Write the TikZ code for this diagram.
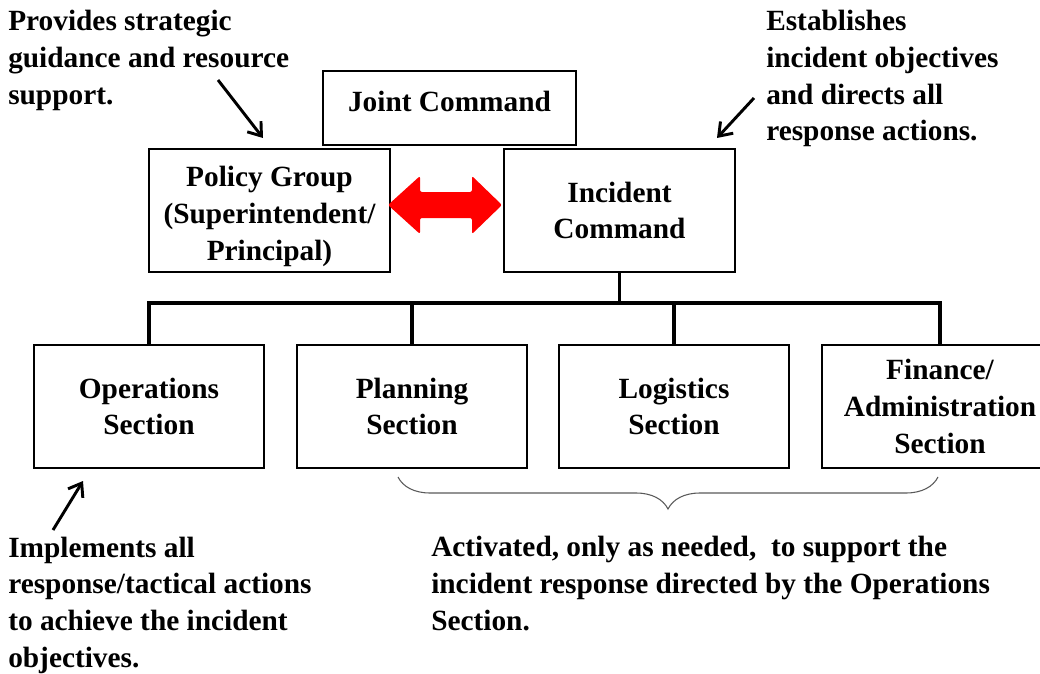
\documentclass[tikz,border=0pt]{standalone}
\usepackage{fontspec}
\setmainfont{Liberation Serif}
\usetikzlibrary{arrows.meta,decorations.pathreplacing}

\begin{document}
\begin{tikzpicture}[x=0.75pt, y=-0.75pt,
    box/.style = {draw, line width=1.1pt, align=center, inner sep=0pt,
      minimum width=172.5pt, minimum height=92.25pt,
      font=\bfseries\fontsize{22}{27.6}\selectfont},
    note/.style = {anchor=base west, align=left, inner sep=0pt,
      font=\bfseries\fontsize{22}{27.5}\selectfont},
    tree/.style = {line width=2.3pt},
    pointer/.style = {line width=2.2pt, -{Straight Barb[length=9pt,width=13pt,line width=2.2pt]}}]
    \useasboundingbox (0,0) rectangle (1040,674);
    % top of the chart
    \node[box, minimum width=189.75pt, minimum height=55.5pt, text depth=10pt] (jc) at (449.5,108) {Joint Command};
    \node[box, minimum width=180.75pt, text height=79pt] (pg) at (269.5,210.5) {Policy Group\\(Superintendent/\\Principal)};
    \node[box, minimum width=173.25pt] (ic) at (619.5,210.5) {Incident\\Command};
    % sections
    \node[box] (ops) at (149,406.5) {Operations\\Section};
    \node[box] (plan) at (412,406.5) {Planning\\Section};
    \node[box] (log) at (674,406.5) {Logistics\\Section};
    \node[box, minimum width=177pt] (fin) at (940,406.5) {Finance/\\Administration\\Section};
    % red two-way arrow between policy group and incident command
    \fill[red, rounded corners=1.5pt] (388,205) -- (420,176) -- (420,192) -- (472,192) -- (472,176)
      -- (502,205) -- (472,234) -- (472,218) -- (420,218) -- (420,234) -- cycle;
    % tree
    \coordinate (bus) at (620,303);
    \draw[tree] (ic.south) -- (ic.south |- bus);
    \draw[tree] (ops.north) -- (ops.north |- bus) -- (fin.north |- bus) -- (fin.north);
    \draw[tree] (plan.north) -- (plan.north |- bus);
    \draw[tree] (log.north) -- (log.north |- bus);
    % brace under the support sections
    \coordinate (bl) at (398,477);
    \coordinate (br) at (938,477);
    \draw[gray!70!black, line width=0.8pt, decorate, decoration={brace, mirror, amplitude=24pt}] (bl) -- (br);
    % notes (placed by the baseline of their last line)
    \node[note] (pgnote) at (8,104) {Provides strategic\\guidance and resource\\support.};
    \node[note] (icnote) at (766,141) {Establishes\\incident objectives\\and directs all\\response actions.};
    \node[note] (opsnote) at (8,667) {Implements all\\response/tactical actions\\to achieve the incident\\objectives.};
    \node[note] (supnote) at (431,630) {Activated, only as needed,\ \ to support the\\incident response directed by the Operations\\Section.};
    \coordinate (pgtail) at (218,80);
    \coordinate (pghead) at (263,138);
    \coordinate (ictail) at (754,98);
    \coordinate (ichead) at (717,138);
    \coordinate (opstail) at (53,530);
    \coordinate (opshead) at (83,481);
    \draw[pointer] (pgtail) -- (pghead);
    \draw[pointer] (ictail) -- (ichead);
    \draw[pointer] (opstail) -- (opshead);
\end{tikzpicture}
\end{document}
